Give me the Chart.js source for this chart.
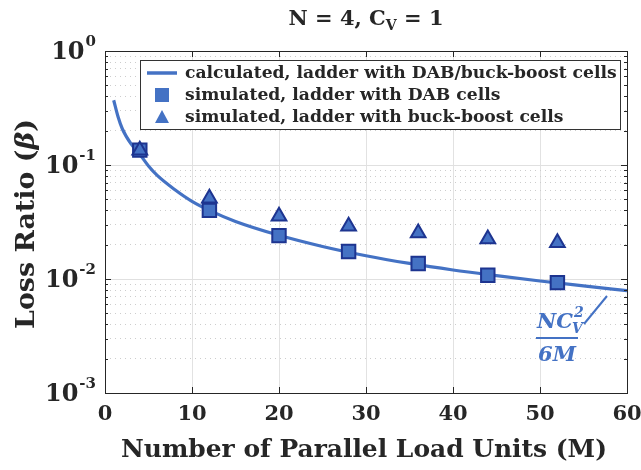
<!DOCTYPE html>
<html>
<head>
<meta charset="utf-8">
<script src="https://cdn.jsdelivr.net/npm/chart.js@4.4.1/dist/chart.umd.min.js"></script>
<style>
  html, body { margin: 0; padding: 0; background: #fff; }
</style>
</head>
<body>
<canvas id="c" width="641" height="470"></canvas>
<script>
// values
let unitsCurve = [1, 1.5, 2, 3, 4, 5, 6, 8, 10, 12, 15, 20, 25, 30, 35, 40, 45, 50, 55, 60]
let lossCalculated = [0.37, 0.265, 0.207, 0.153, 0.124, 0.098, 0.081, 0.061, 0.048, 0.040, 0.032, 0.0242, 0.0193, 0.0160, 0.0137, 0.0120, 0.0107, 0.0096, 0.0087, 0.0079]
let unitsSim = [4, 12, 20, 28, 36, 44, 52]
let lossDab = [0.135, 0.040, 0.024, 0.0174, 0.0137, 0.0108, 0.0093]
let lossBuckBoost = [0.135, 0.051, 0.0356, 0.029, 0.0253, 0.0224, 0.0208]
let xTicks = [0, 10, 20, 30, 40, 50, 60]
let yDecades = [0.001, 0.01, 0.1, 1]
let legendLabels = [
  'calculated, ladder with DAB/buck-boost cells',
  'simulated, ladder with DAB cells',
  'simulated, ladder with buck-boost cells',
]

let blue = '#4472c4'
let edge = '#1d3490'
let ink = '#262626'
let serif = "'DejaVu Serif', serif"

let toPoints = (xs, ys) => xs.map((x, i) => ({ x: x, y: ys[i] }))

// size a font so that the text takes the given width
let fitFont = (ctx, style, text, width) => {
  ctx.font = style + ' 20px ' + serif
  let size = 20 * width / ctx.measureText(text).width
  return style + ' ' + size.toFixed(2) + 'px ' + serif
}

let extras = {
  id: 'extras',
  afterDraw(chart) {
    let { ctx, chartArea: a, scales: { x, y } } = chart
    ctx.save()

    // inward ticks + box
    ctx.strokeStyle = ink
    ctx.lineWidth = 1
    ctx.beginPath()
    x.ticks.forEach((t) => {
      let px = Math.round(x.getPixelForValue(t.value)) + 0.5
      ctx.moveTo(px, a.bottom); ctx.lineTo(px, a.bottom - 6)
      ctx.moveTo(px, a.top); ctx.lineTo(px, a.top + 6)
    })
    y.ticks.forEach((t) => {
      let py = Math.round(y.getPixelForValue(t.value)) + 0.5
      let len = t.major ? 6 : 3
      ctx.moveTo(a.left, py); ctx.lineTo(a.left + len, py)
      ctx.moveTo(a.right, py); ctx.lineTo(a.right - len, py)
    })
    ctx.stroke()
    ctx.strokeRect(Math.round(a.left) + 0.5, Math.round(a.top) + 0.5, Math.round(a.width), Math.round(a.height))

    // y tick labels 10^n
    ctx.fillStyle = ink
    ctx.textBaseline = 'alphabetic'
    ctx.textAlign = 'left'
    yDecades.forEach((v) => {
      let py = y.getPixelForValue(v)
      let exp = String(Math.round(Math.log10(v)))
      ctx.font = 'bold 15px ' + serif
      let ew = ctx.measureText(exp).width
      ctx.font = 'bold 24px ' + serif
      let bw = ctx.measureText('10').width
      let right = a.left - 9
      ctx.fillText('10', right - ew - bw - 1, py + 8)
      ctx.font = 'bold 15px ' + serif
      ctx.fillText(exp, right - ew, py - 5)
    })

    // title  N = 4, C_V = 1
    let parts = [['N = 4, C', 'bold 21px ', 0], ['V', 'bold 14px ', 5], [' = 1', 'bold 21px ', 0]]
    let total = 0
    parts.forEach((p) => { ctx.font = p[1] + serif; total += ctx.measureText(p[0]).width })
    let tx = (a.left + a.right) / 2 - total / 2
    parts.forEach((p) => {
      ctx.font = p[1] + serif
      ctx.fillText(p[0], tx, 25 + p[2])
      tx += ctx.measureText(p[0]).width
    })

    // x axis title
    let xTitle = 'Number of Parallel Load Units (M)'
    ctx.font = fitFont(ctx, 'bold', xTitle, 486)
    ctx.textAlign = 'center'
    ctx.textBaseline = 'middle'
    ctx.fillText(xTitle, 364, 451)

    // y axis title with italic beta
    ctx.save()
    ctx.translate(27, 224)
    ctx.rotate(-Math.PI / 2)
    let yFont = fitFont(ctx, 'bold', 'Loss Ratio (\u03b2)', 210)
    let yParts = [['Loss Ratio (', yFont], ['\u03b2', 'italic ' + yFont], [')', yFont]]
    let yw = 0
    yParts.forEach((p) => { ctx.font = p[1]; yw += ctx.measureText(p[0]).width })
    let yx = -yw / 2
    ctx.textAlign = 'left'
    yParts.forEach((p) => {
      ctx.font = p[1]
      ctx.fillText(p[0], yx, 0)
      yx += ctx.measureText(p[0]).width
    })
    ctx.restore()

    // legend
    ctx.fillStyle = '#fff'
    ctx.fillRect(140, 60, 480, 69)
    ctx.strokeStyle = '#333'
    ctx.strokeRect(140.5, 60.5, 480, 69)
    ctx.font = fitFont(ctx, 'bold', legendLabels[0], 432)
    ctx.fillStyle = ink
    ctx.textAlign = 'left'
    ctx.textBaseline = 'middle'
    let rows = [73, 95, 117]
    legendLabels.forEach((lab, i) => ctx.fillText(lab, 185, rows[i] + 1))
    ctx.strokeStyle = blue
    ctx.lineWidth = 3.5
    ctx.beginPath(); ctx.moveTo(147, rows[0]); ctx.lineTo(177, rows[0]); ctx.stroke()
    ctx.fillStyle = blue
    ctx.fillRect(155, rows[1] - 7, 14, 14)
    ctx.beginPath()
    ctx.moveTo(162, rows[2] - 7); ctx.lineTo(169, rows[2] + 6); ctx.lineTo(155, rows[2] + 6)
    ctx.closePath(); ctx.fill()

    // annotation NC_V^2 / 6M
    ctx.fillStyle = blue
    ctx.strokeStyle = blue
    ctx.textBaseline = 'alphabetic'
    ctx.textAlign = 'left'
    ctx.font = 'italic bold 21px ' + serif
    ctx.fillText('NC', 537, 328)
    let ncw = ctx.measureText('NC').width
    ctx.font = 'italic bold 14px ' + serif
    ctx.fillText('2', 537 + ncw + 1, 317)
    ctx.fillText('V', 537 + ncw - 1, 333)
    ctx.lineWidth = 2
    ctx.beginPath(); ctx.moveTo(536, 338); ctx.lineTo(578, 338); ctx.stroke()
    ctx.font = 'italic bold 21px ' + serif
    ctx.textAlign = 'center'
    ctx.fillText('6M', 557, 361)
    ctx.beginPath(); ctx.moveTo(584, 324); ctx.lineTo(607, 296); ctx.stroke()

    ctx.restore()
  },
}

let chart = new Chart(document.getElementById('c'), {
  type: 'line',
  data: {
    datasets: [
      {
        label: legendLabels[0],
        data: toPoints(unitsCurve, lossCalculated),
        borderColor: blue,
        borderWidth: 3.2,
        pointRadius: 0,
        cubicInterpolationMode: 'monotone',
        order: 3,
      },
      {
        label: legendLabels[1],
        data: toPoints(unitsSim, lossDab),
        showLine: false,
        pointStyle: 'rect',
        pointRadius: 9.5,
        backgroundColor: blue,
        borderColor: edge,
        borderWidth: 2,
        order: 2,
      },
      {
        label: legendLabels[2],
        data: toPoints(unitsSim, lossBuckBoost),
        showLine: false,
        pointStyle: 'triangle',
        pointRadius: 8.5,
        backgroundColor: blue,
        borderColor: edge,
        borderWidth: 2,
        order: 1,
      },
    ],
  },
  options: {
    responsive: false,
    animation: false,
    devicePixelRatio: 1,
    layout: { padding: { top: 51, right: 14, left: 0, bottom: 0 } },
    plugins: { legend: { display: false }, tooltip: { enabled: false } },
    scales: {
      x: {
        type: 'linear',
        min: 0,
        max: 60,
        afterBuildTicks: (s) => { s.ticks = xTicks.map((v) => ({ value: v })) },
        afterFit: (s) => { s.height = 77; s.paddingLeft = 0; s.paddingRight = 0 },
        grid: {
          color: (c) => (c.tick && (c.tick.value === 0 || c.tick.value === 60) ? 'rgba(0,0,0,0)' : '#e2e2e2'),
          drawTicks: false,
        },
        border: { display: false },
        ticks: { color: ink, font: { family: serif, size: 21, weight: 'bold' }, padding: 9, maxRotation: 0 },
      },
      y: {
        type: 'logarithmic',
        min: 0.001,
        max: 1,
        afterBuildTicks: (s) => {
          let ticks = []
          yDecades.forEach((d, i) => {
            ticks.push({ value: d, major: true })
            if (i < yDecades.length - 1) {
              for (let k = 2; k <= 9; k++) ticks.push({ value: d * k, major: false })
            }
          })
          s.ticks = ticks
        },
        afterFit: (s) => { s.width = 105; s.paddingTop = 0; s.paddingBottom = 0 },
        grid: {
          color: (c) => (c.tick && c.tick.major ? '#e0e0e0' : '#cdcdcd'),
          lineWidth: 1,
          drawTicks: false,
        },
        border: {
          display: false,
          dash: (c) => (c.tick && !c.tick.major ? [1, 4] : []),
        },
        ticks: { display: false },
      },
    },
  },
  plugins: [extras],
})
</script>
</body>
</html>
